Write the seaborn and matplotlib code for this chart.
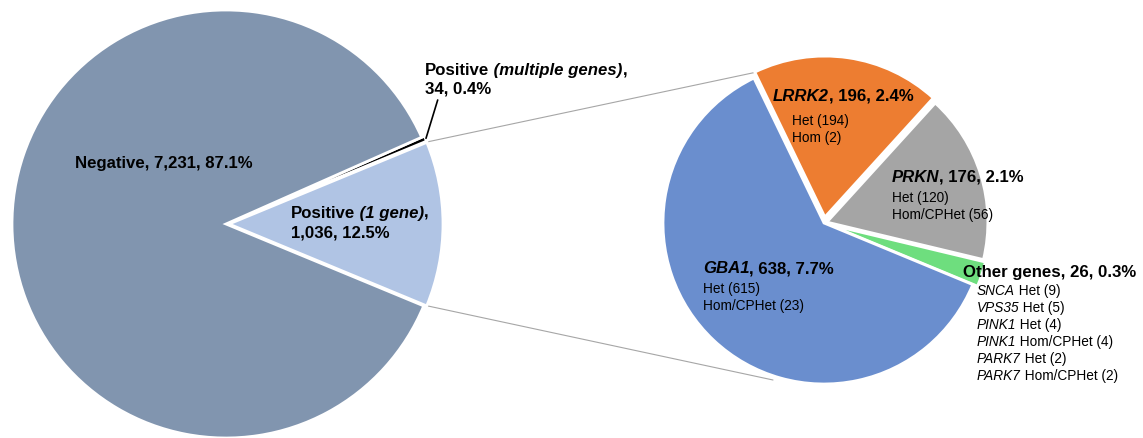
import matplotlib
matplotlib.use("Agg")
import matplotlib.pyplot as plt
import seaborn as sns

# left pie: all tested
main_labels = ["Positive (1 gene)", "Positive (multiple genes)", "Negative"]
main_counts = [1036, 34, 7231]
main_pcts = ["12.5%", "0.4%", "87.1%"]

# right pie: single-gene positives
gene_names = ["Other genes", "PRKN", "LRRK2", "GBA1"]
gene_counts = [26, 176, 196, 638]
gene_pcts = ["0.3%", "2.1%", "2.4%", "7.7%"]

gba1_detail = [("Het", 615), ("Hom/CPHet", 23)]
lrrk2_detail = [("Het", 194), ("Hom", 2)]
prkn_detail = [("Het", 120), ("Hom/CPHet", 56)]
other_detail = [("SNCA", "Het", 9), ("VPS35", "Het", 5), ("PINK1", "Het", 4),
                ("PINK1", "Hom/CPHet", 4), ("PARK7", "Het", 2), ("PARK7", "Hom/CPHet", 2)]

main_colors = ["#B0C4E4", "#000000", "#8195AF"]
gene_colors = ["#6EDE7E", "#A5A5A5", "#ED7D31", "#6A8ECE"]

sns.set_theme(style="white")
plt.rcParams["font.family"] = ["Liberation Sans", "DejaVu Sans"]

W, H = 1143, 438
fig = plt.figure(figsize=(W / 100, H / 100), dpi=100)
ax = fig.add_axes([0, 0, 1, 1])

ax.pie(main_counts, colors=main_colors, center=(226, 214), radius=214,
       startangle=-22.5, counterclock=True, explode=[3, 3, 0], frame=True,
       wedgeprops=dict(edgecolor="white", linewidth=2))
ax.pie(gene_counts, colors=gene_colors, center=(824, 215), radius=161,
       startangle=-22.5, counterclock=True, explode=[5, 3, 6, 0], frame=True,
       wedgeprops=dict(edgecolor="white", linewidth=2))

# connector lines and leader
ax.plot([428.3, 757], [H - 141.7, H - 72], color="#A6A6A6", lw=0.8, zorder=0)
ax.plot([428, 773], [H - 306, H - 380], color="#A6A6A6", lw=0.8, zorder=0)
ax.plot([437.7, 426], [H - 100, H - 138.3], color="black", lw=1.2)

ax.set_xlim(0, W)
ax.set_ylim(0, H)
ax.set_aspect("auto")
ax.axis("off")

renderer = fig.canvas.get_renderer()
BIG, SMALL = 12.1, 9.8


def runs(x, ytop, parts, size):
    # parts: (text, weight, style); y given in pixels from top, baseline
    y = H - ytop
    for s, weight, style in parts:
        t = ax.text(x, y, s, fontsize=size, fontweight=weight, fontstyle=style,
                    color="black", ha="left", va="baseline")
        bb = t.get_window_extent(renderer=renderer)
        x = ax.transData.inverted().transform((bb.x1, bb.y0))[0]


runs(75, 168, [(f"Negative, {main_counts[2]:,}, {main_pcts[2]}", "bold", "normal")], BIG)
runs(290.7, 218, [("Positive", "bold", "normal"), (" (1 gene)", "bold", "italic"),
                  (",", "bold", "normal")], BIG)
runs(290.7, 237, [(f"{main_counts[0]:,}, {main_pcts[0]}", "bold", "normal")], BIG)
runs(425, 75, [("Positive", "bold", "normal"), (" (multiple genes)", "bold", "italic"),
               (",", "bold", "normal")], BIG)
runs(425, 93, [(f"{main_counts[1]:,}, {main_pcts[1]}", "bold", "normal")], BIG)

# gene headers
header_pos = {"LRRK2": (772.7, 100.7), "PRKN": (891.7, 181.7), "GBA1": (702.7, 273)}
detail_pos = {"LRRK2": (791.7, 125, lrrk2_detail), "PRKN": (892, 201.7, prkn_detail),
              "GBA1": (703, 292.7, gba1_detail)}
for name, n, pct in zip(gene_names, gene_counts, gene_pcts):
    if name == "Other genes":
        runs(962.7, 276.7, [(f"{name}, {n}, {pct}", "bold", "normal")], BIG)
        continue
    hx, hy = header_pos[name]
    runs(hx, hy, [(name, "bold", "italic"), (f", {n}, {pct}", "bold", "normal")], BIG)
    dx, dy, det = detail_pos[name]
    for i, (kind, c) in enumerate(det):
        runs(dx, dy + i * 17.3, [(f"{kind} ({c})", "normal", "normal")], SMALL)

for i, (g, kind, c) in enumerate(other_detail):
    runs(976.7, 295 + i * 17, [(g, "normal", "italic"), (f" {kind} ({c})", "normal", "normal")], SMALL)

fig.savefig("out.png", dpi=100)
